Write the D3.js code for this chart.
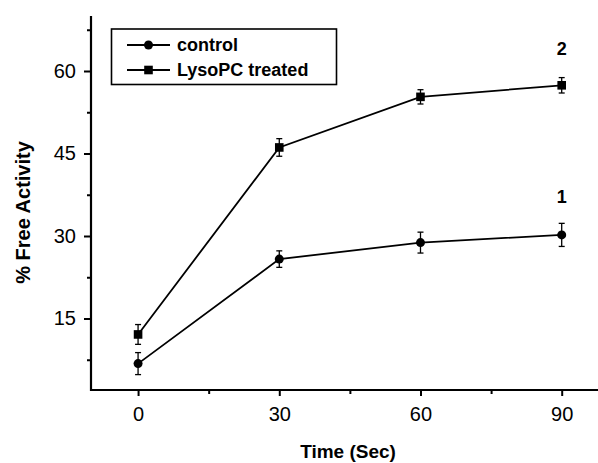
<!DOCTYPE html>
<html><head><meta charset="utf-8">
<script src="https://cdn.jsdelivr.net/npm/d3@7"></script>
<style>body{margin:0;background:#fff}svg{display:block}text{font-family:Arial,"Liberation Sans",sans-serif}</style>
</head><body><svg id="c" width="598" height="463"></svg>
<script>
const times = [0, 30, 60, 90];
const controlValues = [6.8, 25.8, 28.8, 30.2];
const controlErrors = [2.0, 1.5, 1.9, 2.1];
const lysoValues = [12.1, 46.1, 55.3, 57.4];
const lysoErrors = [1.8, 1.6, 1.3, 1.4];
const seriesNames = ["control", "LysoPC treated"];
const seriesLabels = ["1", "2"];
const xTicks = [0, 30, 60, 90];
const yTicks = [15, 30, 45, 60];

const svg = d3.select("#c");
const x = d3.scaleLinear().domain([-10, 90]).range([91, 561.7]);
const y = d3.scaleLinear().domain([2, 70]).range([390, 16]);
const xMax = 100;

// axes
const gx = svg.append("g").attr("transform", "translate(0,390)");
gx.append("line").attr("x1", 90).attr("x2", x(xMax)).attr("stroke", "#000").attr("stroke-width", 2.2);
gx.call(g => {
  const maj = d3.axisBottom(x).tickValues(xTicks).tickSize(6).tickPadding(10.5).tickFormat(d3.format("d"));
  const a = g.append("g").call(maj);
  a.select(".domain").remove();
  a.selectAll(".tick line").attr("stroke-width", 2);
  a.selectAll(".tick text").attr("font-size", 20).attr("fill", "#000");
  const mn = d3.axisBottom(x).tickValues([15, 45, 75]).tickSize(4).tickFormat("");
  const b = g.append("g").call(mn);
  b.select(".domain").remove();
  b.selectAll(".tick line").attr("stroke-width", 2);
});

const gy = svg.append("g").attr("transform", "translate(91,0)");
gy.append("line").attr("y1", 16).attr("y2", 391).attr("stroke", "#000").attr("stroke-width", 2.2);
gy.call(g => {
  const maj = d3.axisLeft(y).tickValues(yTicks).tickSize(7).tickPadding(8);
  const a = g.append("g").call(maj);
  a.select(".domain").remove();
  a.selectAll(".tick line").attr("stroke-width", 2);
  a.selectAll(".tick text").attr("font-size", 20).attr("fill", "#000");
  const mn = d3.axisLeft(y).tickValues([7.5, 22.5, 37.5, 52.5, 67.5]).tickSize(4).tickFormat("");
  const b = g.append("g").call(mn);
  b.select(".domain").remove();
  b.selectAll(".tick line").attr("stroke-width", 2);
});

svg.append("text").attr("x", 348).attr("y", 458).attr("text-anchor", "middle")
  .attr("font-size", 19).attr("font-weight", "bold").text("Time (Sec)");
svg.append("text").attr("transform", "translate(30,212.5) rotate(-90)").attr("text-anchor", "middle")
  .attr("font-size", 20).attr("font-weight", "bold").text("% Free Activity");

const series = [
  {vals: controlValues, errs: controlErrors, shape: "circle"},
  {vals: lysoValues, errs: lysoErrors, shape: "square"}
];
const line = d3.line().x(d => x(d.t)).y(d => y(d.v));

function marker(g, shape, cx, cy) {
  if (shape === "circle") g.append("circle").attr("cx", cx).attr("cy", cy).attr("r", 4.5).attr("fill", "#000");
  else g.append("rect").attr("x", cx - 4.3).attr("y", cy - 4.3).attr("width", 8.6).attr("height", 8.6).attr("fill", "#000");
}

series.forEach(s => {
  const pts = times.map((t, i) => ({t, v: s.vals[i], e: s.errs[i]}));
  svg.append("path").datum(pts).attr("d", line).attr("fill", "none").attr("stroke", "#000").attr("stroke-width", 1.8);
  const g = svg.append("g");
  pts.forEach(p => {
    const cx = x(p.t), y1 = y(p.v + p.e), y2 = y(p.v - p.e);
    g.append("line").attr("x1", cx).attr("x2", cx).attr("y1", y1).attr("y2", y2).attr("stroke", "#000").attr("stroke-width", 1.3);
    [y1, y2].forEach(yy => g.append("line").attr("x1", cx - 3).attr("x2", cx + 3).attr("y1", yy).attr("y2", yy).attr("stroke", "#000").attr("stroke-width", 1.3));
    marker(g, s.shape, cx, y(p.v));
  });
});

// series labels
svg.append("text").attr("x", x(90)).attr("y", 55).attr("text-anchor", "middle").attr("font-size", 18).attr("font-weight", "bold").text(seriesLabels[1]);
svg.append("text").attr("x", x(90)).attr("y", 203).attr("text-anchor", "middle").attr("font-size", 18).attr("font-weight", "bold").text(seriesLabels[0]);

// legend
const lg = svg.append("g");
lg.append("rect").attr("x", 111.5).attr("y", 29).attr("width", 225).attr("height", 55.5).attr("fill", "#fff").attr("stroke", "#000").attr("stroke-width", 1.6);
seriesNames.forEach((n, i) => {
  const yy = 45 + i * 25;
  lg.append("line").attr("x1", 127).attr("x2", 170).attr("y1", yy).attr("y2", yy).attr("stroke", "#000").attr("stroke-width", 1.8);
  marker(lg, i === 0 ? "circle" : "square", 148.5, yy);
  lg.append("text").attr("x", 177).attr("y", yy + 6.3).attr("font-size", 18).attr("font-weight", "bold").text(n);
});
</script></body></html>
